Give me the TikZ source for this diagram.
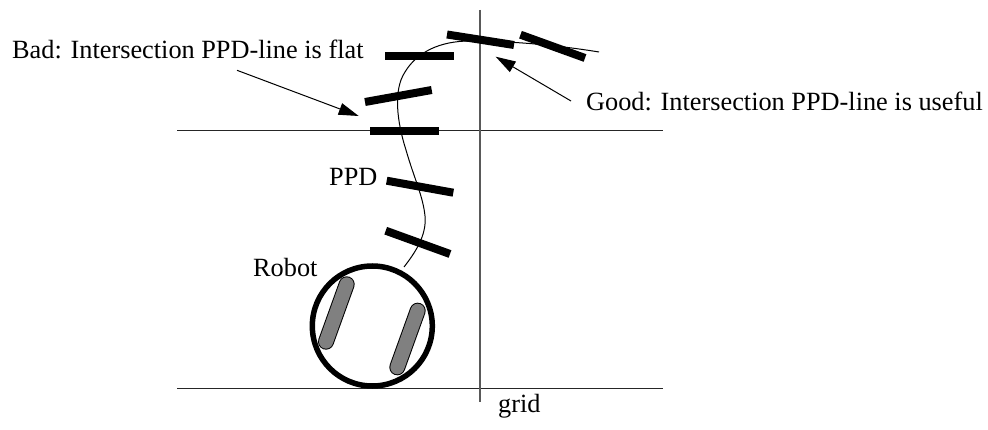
\documentclass[tikz,border=0pt]{standalone}
\usepackage{fontspec}
\setmainfont{Liberation Serif}
\usetikzlibrary{arrows.meta,positioning}

\tikzset{
  textlabel/.style={inner sep=0pt,anchor=base west,font=\fontsize{26.3}{30}\selectfont},
  gridline/.style={line width=1pt,black!85},
  ppdbar/.style={line width=8pt,black},
  robotpath/.style={line width=1pt},
  wheel/.style={line width=16pt,line cap=round},
  pointer/.style={line width=1pt,-{Triangle[length=20pt,width=12pt]}}
}

\begin{document}
\begin{tikzpicture}[x=1pt,y=-1pt,>=Latex]
  \useasboundingbox (0,0) rectangle (988,430);

  % grid
  \draw[gridline] (177,131) -- (663,131);
  \draw[gridline] (177,388) -- (663,388);
  \draw[gridline,line width=1.3pt,black!65] (480,10) -- (480,402);

  % path of the robot
  \draw[robotpath] (404,267) .. controls (414,254) and (427,236) .. (425,216)
    .. controls (423,196) and (414,178) .. (406,150)
    .. controls (397,122) and (393,90) .. (405,72)
    .. controls (417,52) and (440,41) .. (470,41)
    .. controls (505,41) and (550,44) .. (599,52);

  % robot
  \draw[line width=5.5pt] (372.3,326) circle (60);
  \foreach \xa/\ya/\xb/\yb in {346.7/284.3/326/341.7,417.7/310.7/397.3/367.3} {
    \draw[wheel,black] (\xa,\ya) -- (\xb,\yb);
    \draw[line width=14pt,line cap=round,black!50] (\xa,\ya) -- (\xb,\yb);
  }

  % PPDs
  \draw[ppdbar] (447,34.5) -- (514,45);
  \draw[ppdbar] (520.5,34.7) -- (585,58);
  \draw[ppdbar] (385,56) -- (453.7,56);
  \draw[ppdbar] (365,102) -- (431.7,90);
  \draw[ppdbar] (370,131.3) -- (438.7,131.3);
  \draw[ppdbar] (386.7,180.7) -- (453.3,192.7);
  \draw[ppdbar] (385.7,230.7) -- (450,254);

  % labels
  \node[textlabel] (bad) at (12,59) {Bad: Intersection PPD-line is flat};
  \node[textlabel] (good) at (586,111) {Good: Intersection PPD-line is useful};
  \node[textlabel] (ppdtext) at (329,185.7) {PPD};
  \node[textlabel] (robot) at (253,276.7) {Robot};
  \node[textlabel] (gridtext) at (498,412.7) {grid};

  \coordinate (badstart) at (237,70.3);
  \coordinate (badend) at (358.7,116);
  \coordinate (goodstart) at (571,101);
  \coordinate (goodend) at (495.7,56.7);
  \draw[pointer] (badstart) -- (badend);
  \draw[pointer] (goodstart) -- (goodend);
\end{tikzpicture}
\end{document}
